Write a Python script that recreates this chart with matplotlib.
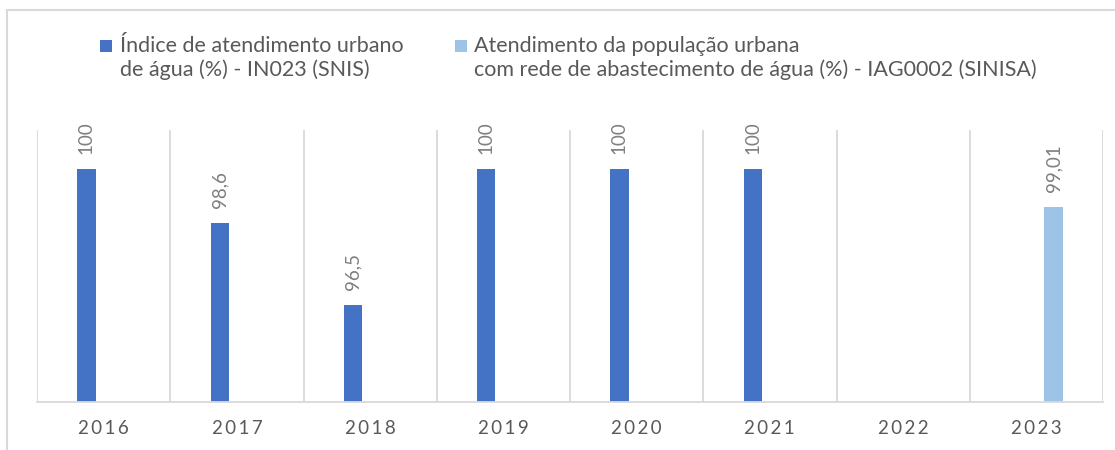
import numpy as np
import matplotlib.pyplot as plt
from matplotlib.patches import Rectangle

plt.rcParams['font.family'] = ['Lato', 'DejaVu Sans']

# DATA
years = ['2016', '2017', '2018', '2019', '2020', '2021', '2022', '2023']
snis = [100, 98.6, 96.5, 100, 100, 100, np.nan, np.nan]
sinisa = [np.nan, np.nan, np.nan, np.nan, np.nan, np.nan, np.nan, 99.01]
snis_name = 'Índice de atendimento urbano\nde água (%) - IN023 (SNIS)'
sinisa_name = 'Atendimento da população urbana\ncom rede de abastecimento de água (%) - IAG0002 (SINISA)'

C_SNIS = '#4472C4'
C_SINISA = '#9DC3E6'
GRID = '#d9d9d9'
TXT = '#595959'
LBL = '#7f7f7f'

W, H = 1115, 450


def px(x, y):
    """pixel (from top-left) -> figure fraction"""
    return x / W, 1 - y / H


fig = plt.figure(figsize=(W / 100, H / 100), dpi=100)
ax = fig.add_axes([37 / W, 48 / H, (1103 - 37) / W, (402 - 130) / H])

x = np.arange(len(years))
w, off = 0.137, 0.129
ax.bar(x - off, snis, w, color=C_SNIS)
ax.bar(x + off, sinisa, w, color=C_SINISA)

# data labels
for xs, vals in ((x - off, snis), (x + off, sinisa)):
    for xi, v in zip(xs, vals):
        if np.isnan(v):
            continue
        ax.annotate(f'{v:g}'.replace('.', ','), (xi, v), xytext=(0, 11),
                    textcoords='offset points', rotation=90, ha='center',
                    va='bottom', color=LBL, fontsize=13.5)

ax.set_xlim(-0.5, len(years) - 0.5)
ax.set_ylim(94, 101)
ax.set_yticks([])
ax.set_xticks(x)
ax.set_xticklabels(['\u2009'.join(y) for y in years], color=TXT, fontsize=13.5)
ax.tick_params(axis='x', length=0, pad=13)
ax.set_xticks(np.arange(-0.5, len(years)), minor=True)
ax.tick_params(axis='x', which='minor', length=0)
ax.grid(which='minor', axis='x', color=GRID, lw=1.3)
ax.set_axisbelow(True)
for s in ('top', 'left', 'right'):
    ax.spines[s].set_visible(False)
ax.spines['bottom'].set_color(GRID)
ax.spines['bottom'].set_linewidth(1.3)

# legend (marker on first line, like Excel)
for (mx, tx), color, name in (((100, 120), C_SNIS, snis_name),
                               ((455, 474), C_SINISA, sinisa_name)):
    fig.add_artist(Rectangle(px(mx, 52), 12 / W, 12 / H, transform=fig.transFigure,
                             color=color, lw=0))
    fig.text(*px(tx, 58), name, ha='left', va='center', color=TXT,
             fontsize=15.5, linespacing=1.2)

# chart frame
fig.add_artist(Rectangle((7 / W, -0.2), 1.2, 1.2 - 10 / H, transform=fig.transFigure,
                         fill=False, ec=GRID, lw=1.5))

fig.savefig('out.png', dpi=100)
